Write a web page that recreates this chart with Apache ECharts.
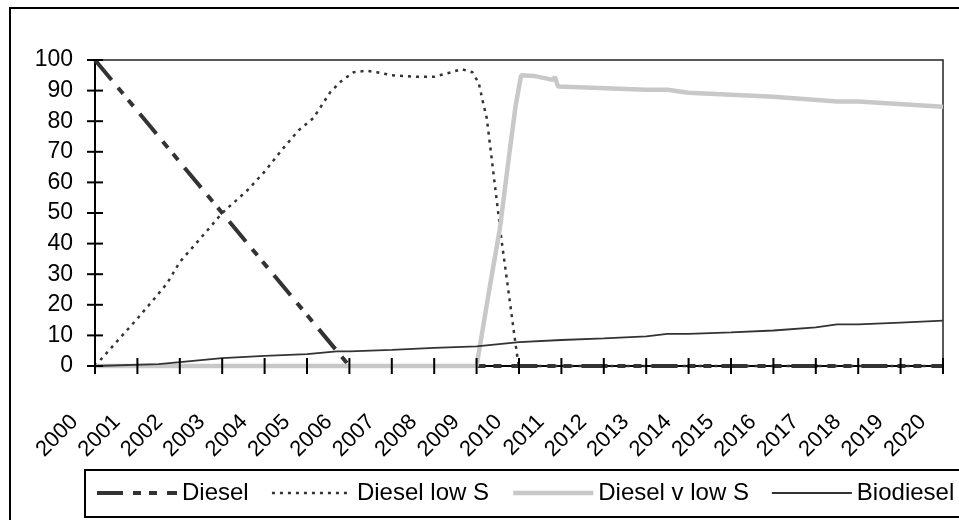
<!DOCTYPE html>
<html>
<head>
<meta charset="utf-8">
<title>Diesel fuel shares</title>
<script src="https://cdn.jsdelivr.net/npm/echarts@6.0.0/dist/echarts.min.js"></script>
<style>
    html, body { margin: 0; padding: 0; background: #fff; }
    #chart { width: 959px; height: 520px; }
</style>
</head>
<body>
<div id="chart"></div>
<script>
// tick labels
var years = [2000, 2001, 2002, 2003, 2004, 2005, 2006, 2007, 2008, 2009, 2010,
    2011, 2012, 2013, 2014, 2015, 2016, 2017, 2018, 2019, 2020];
var shares = [0, 10, 20, 30, 40, 50, 60, 70, 80, 90, 100];

// Diesel (long dash dot dot)
var dieselX = [2000, 2006, 2020];
var dieselY = [100, 0, 0];

// Diesel low S (dotted)
var lowSX = [2000, 2001, 2001.4, 2001.7, 2002, 2002.6, 2003, 2003.6, 2004, 2004.4, 2004.8, 2005.15, 2005.55, 2005.8,
    2006.1, 2006.4, 2006.65, 2007, 2007.6, 2008, 2008.4, 2008.65, 2008.9, 2009.05, 2009.17, 2009.24, 2009.38,
    2009.58, 2009.77, 2009.95, 2010, 2020];
var lowSY = [0, 15.5, 22, 27, 34, 43.5, 50, 57.5, 63.5, 70.5, 77, 81, 89.5, 93,
    96, 96.5, 96, 95, 94.5, 94.5, 96, 97, 96, 92.5, 85, 81, 65,
    42, 22.5, 4, 0, 0];

// Diesel v low S (thick grey)
var vLowSX = [2000, 2009, 2009.3, 2009.55, 2009.75, 2009.92, 2010.05, 2010.35, 2010.8, 2010.85, 2010.92,
    2013, 2013.5, 2014, 2016, 2017.5, 2018, 2020];
var vLowSY = [0, 0, 25, 45, 67, 85, 95, 94.8, 93.5, 94.5, 91.3,
    90.3, 90.3, 89.3, 88, 86.4, 86.4, 84.7];

// Biodiesel (thin solid)
var bioX = [2000, 2001.5, 2002, 2003, 2004, 2005, 2005.7, 2006, 2007, 2008, 2009, 2010, 2011, 2012, 2013,
    2013.5, 2014, 2015, 2016, 2017, 2017.5, 2018, 2019, 2020];
var bioY = [0, 0.6, 1.3, 2.6, 3.3, 3.9, 4.8, 4.8, 5.3, 5.9, 6.4, 7.8, 8.5, 9.0, 9.7,
    10.5, 10.5, 11.0, 11.6, 12.6, 13.6, 13.6, 14.2, 14.8];

var seriesNames = ["Diesel", "Diesel low S", "Diesel v low S", "Biodiesel"];

function pairs(xs, ys) {
    var out = [];
    for (var i = 0; i < xs.length; i++) {
        out.push([xs[i], ys[i]]);
    }
    return out;
}

var font = 'Arial, "Liberation Sans", sans-serif';
var dark = "#333333";

// line styles, shared by series and legend
var styles = [
    {color: dark, width: 4, type: [26, 10, 8, 8, 8, 10]},
    {color: dark, width: 2.5, type: [3, 5]},
    {color: "#c8c8c8", width: 4.5, type: "solid"},
    {color: dark, width: 1.8, type: "solid"}
];

var chart = echarts.init(document.getElementById("chart"), null, {renderer: "canvas"});

/**
 * Excel style "cross" tick marks, drawn through the axes' own scale
 */
function crossTicks(horizontal) {
    return function (params, api) {
        var p = api.coord([api.value(0), api.value(1)]);
        var shape = horizontal
            ? {x1: p[0] - 8, y1: p[1], x2: p[0] + 8, y2: p[1]}
            : {x1: p[0], y1: p[1] - 8, x2: p[0], y2: p[1] + 8};
        return {type: "line", shape: shape, style: {stroke: "#000", lineWidth: 2}};
    };
}

var lineSeries = seriesNames.map(function (n, i) {
    var xs = [dieselX, lowSX, vLowSX, bioX][i];
    var ys = [dieselY, lowSY, vLowSY, bioY][i];
    return {
        name: n, type: "line", symbol: "none", showSymbol: false, clip: false,
        data: pairs(xs, ys),
        lineStyle: styles[i],
        itemStyle: {color: styles[i].color},
        z: 2
    };
});

var option = {
    backgroundColor: "#fff",
    animation: false,
    grid: {
        left: 95, right: 16, top: 60, bottom: 154,
        show: true, borderColor: "#222", borderWidth: 1.5, backgroundColor: "transparent"
    },
    graphic: [
        // outer chart frame (cut by the picture on the right and bottom)
        {type: "rect", shape: {x: 10, y: 8, width: 1000, height: 600},
            style: {fill: null, stroke: "#000", lineWidth: 2}, silent: true, z: -1},
        // legend frame
        {type: "rect", shape: {x: 85, y: 470, width: 900, height: 47},
            style: {fill: null, stroke: "#000", lineWidth: 2}, silent: true, z: -1}
    ],
    legend: {
        left: 95,
        top: 481,
        width: 900,
        padding: 0,
        itemWidth: 80,
        itemHeight: 14,
        itemGap: 22,
        itemStyle: {opacity: 0},
        textStyle: {color: "#000", fontFamily: font, fontSize: 24},
        data: seriesNames.map(function (n, i) {
            return {name: n, lineStyle: styles[i], itemStyle: {opacity: 0}};
        })
    },
    xAxis: {
        type: "value",
        min: years[0],
        max: years[years.length - 1],
        interval: 1,
        position: "bottom",
        axisLine: {show: true, onZero: false, lineStyle: {color: "#000", width: 2}},
        axisTick: {show: false},
        splitLine: {show: false},
        axisLabel: {
            rotate: 45,
            margin: 32,
            padding: [0, 29, 0, 0],
            color: "#000",
            fontFamily: font,
            fontSize: 22,
            formatter: function (v) { return String(v); }
        }
    },
    yAxis: {
        type: "value",
        min: shares[0],
        max: shares[shares.length - 1],
        interval: 10,
        position: "left",
        axisLine: {show: true, onZero: false, lineStyle: {color: "#000", width: 2}},
        axisTick: {show: false},
        splitLine: {show: false},
        axisLabel: {margin: 22, color: "#000", fontFamily: font, fontSize: 23}
    },
    series: lineSeries.concat([
        {
            type: "custom", silent: true, clip: false, z: 5,
            renderItem: crossTicks(false),
            data: years.map(function (y) { return [y, 0]; })
        },
        {
            type: "custom", silent: true, clip: false, z: 5,
            renderItem: crossTicks(true),
            data: shares.map(function (v) { return [years[0], v]; })
        }
    ])
};

chart.setOption(option);
</script>
</body>
</html>
